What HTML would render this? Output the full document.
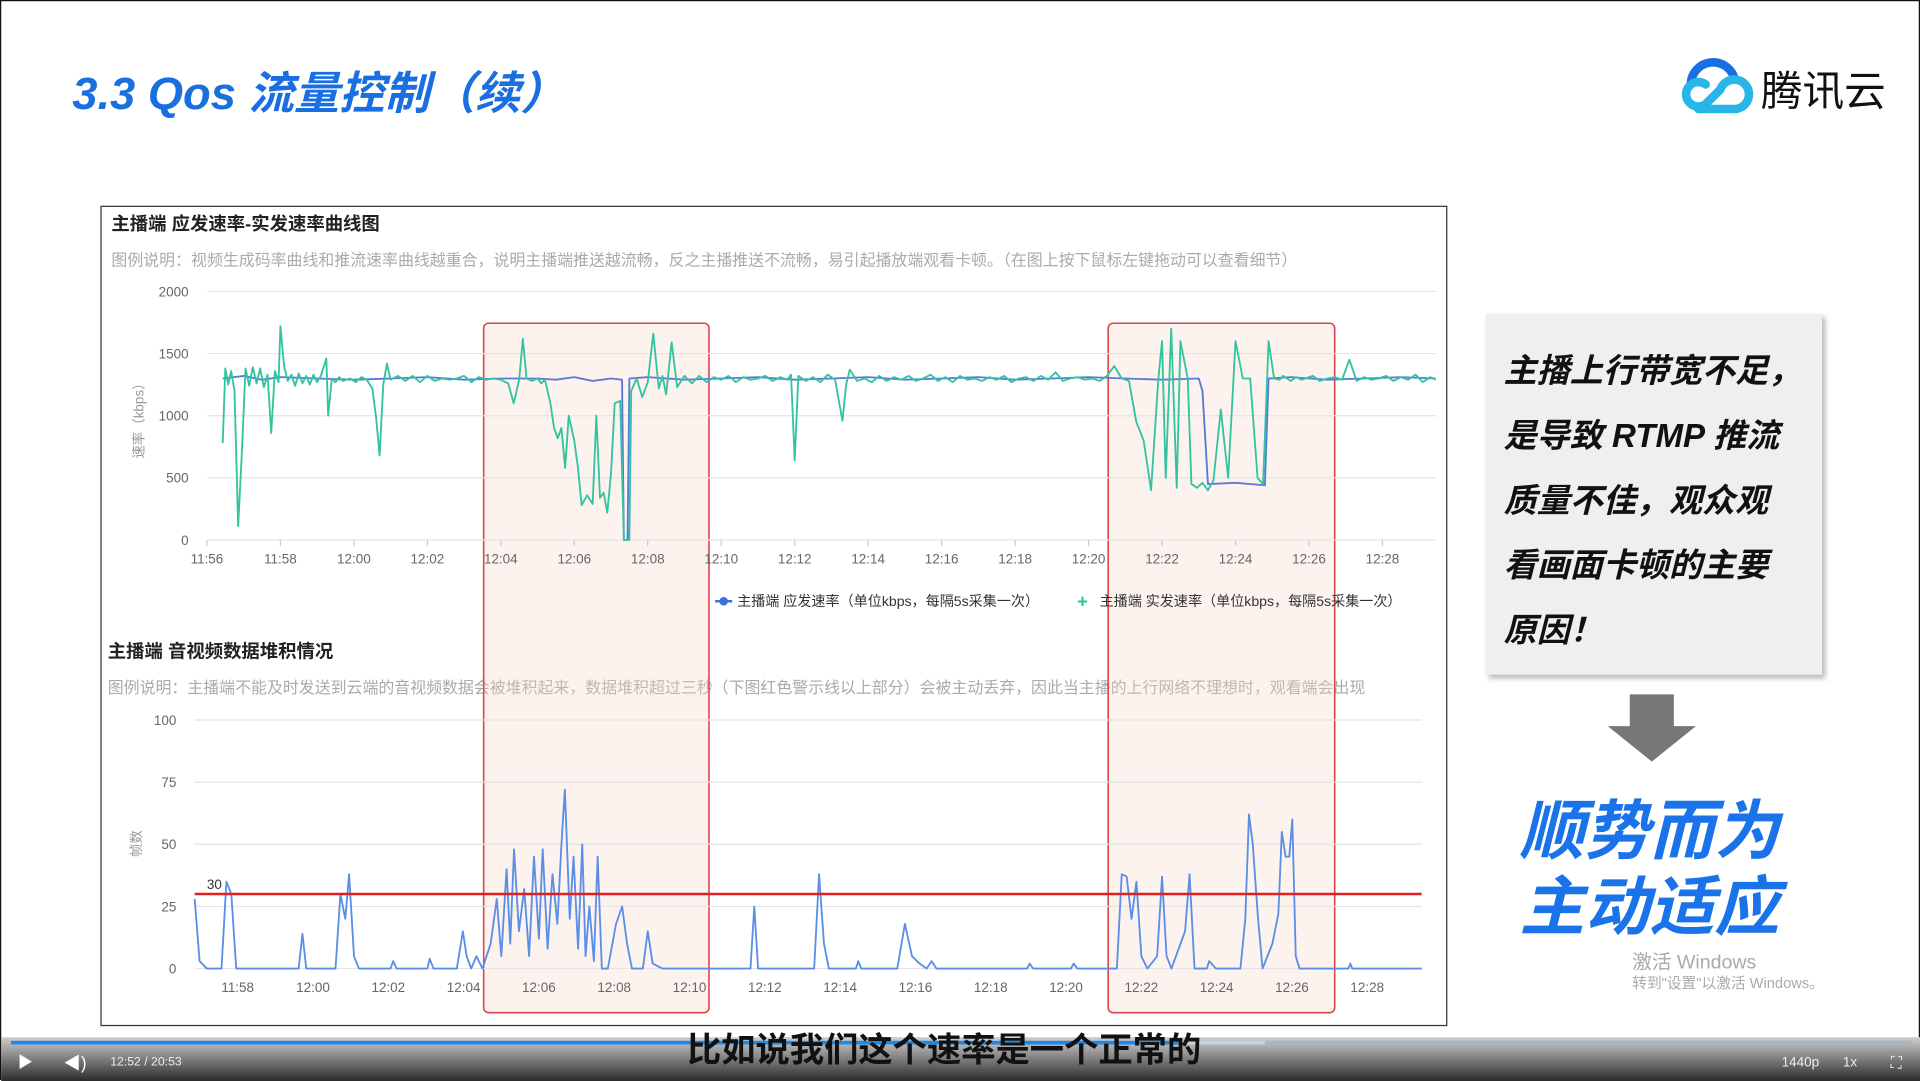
<!DOCTYPE html>
<html><head><meta charset="utf-8"><style>
html,body{margin:0;padding:0;width:1920px;height:1080px;overflow:hidden;background:#fff}
#stage{position:absolute;left:0;top:0;width:1568px;height:882px;transform:scale(1.22449);transform-origin:0 0;font-family:"Liberation Sans","Noto Sans CJK SC",sans-serif;border-top:1px solid #111;border-left:1px solid #111;border-right:1px solid #111;box-sizing:border-box}
.abs{position:absolute;white-space:nowrap}
</style></head><body>
<div id="stage">
<div class="abs" style="left:58px;top:45px;font-size:37px;font-weight:bold;font-style:italic;color:#1a6fe0">3.3 Qos 流量控制（续）</div>
<svg class="abs" style="left:1366px;top:44px" width="68" height="50" viewBox="0 0 68 50">
<path d="M14 26 A18 18 0 0 1 50 22" fill="none" stroke="#1a6fe0" stroke-width="7"/>
<path d="M20 44 H50 A12 12 0 1 0 38 28 L26 40 A10 10 0 1 1 26 24" fill="none" stroke="#27b6e8" stroke-width="7" stroke-linecap="round"/>
</svg>
<div class="abs" style="left:1437px;top:46px;font-size:34px;color:#111">腾讯云</div>

<div class="abs" style="left:81px;top:167px;width:1098px;height:668px;border:1px solid #333;background:#fff"></div>
<div class="abs" style="left:90px;top:171px;font-size:15px;font-weight:bold;color:#222">主播端 应发速率-实发速率曲线图</div>
<div class="abs" style="left:90px;top:201px;font-size:13px;color:#aaa">图例说明：视频生成码率曲线和推流速率曲线越重合，说明主播端推送越流畅，反之主播推送不流畅，易引起播放端观看卡顿。（在图上按下鼠标左键拖动可以查看细节）</div>
<div class="abs" style="left:87px;top:520px;font-size:15px;font-weight:bold;color:#222">主播端 音视频数据堆积情况</div>
<div class="abs" style="left:87px;top:550px;font-size:13px;color:#aaa">图例说明：主播端不能及时发送到云端的音视频数据会被堆积起来，数据堆积超过三秒（下图红色警示线以上部分）会被主动丢弃，因此当主播的上行网络不理想时，观看端会出现</div>

<svg id="charts" class="abs" style="left:0;top:0" width="1568" height="882"></svg>

<div class="abs" style="left:1212px;top:255px;width:275px;height:295px;background:#efefef;box-shadow:3px 3px 4px #bbb"></div>
<div class="abs" style="left:1227px;top:276px;font-size:27px;line-height:53px;font-weight:bold;font-style:italic;color:#111">主播上行带宽不足，<br>是导致 RTMP 推流<br>质量不佳，观众观<br>看画面卡顿的主要<br>原因！</div>
<svg class="abs" style="left:1312px;top:566px" width="74" height="56"><path d="M18 0 H54 V26 H72 L36 55 L0 26 H18 Z" fill="#777"/></svg>
<div class="abs" style="left:1236px;top:648px;width:220px;text-align:center;font-size:53px;line-height:62px;font-weight:bold;font-style:italic;color:#1a73e8">顺势而为<br>主动适应</div>
<div class="abs" style="left:1332px;top:771px;font-size:16px;color:#aaa">激活 Windows</div>
<div class="abs" style="left:1332px;top:793px;font-size:12px;color:#aaa">转到"设置"以激活 Windows。</div>

<div class="abs" style="left:0;top:846px;width:1568px;height:36px;background:linear-gradient(#cfcfcf,#2a2a2a)"></div>
<div class="abs" style="left:8px;top:849px;width:1552px;height:3px;background:#aab4c4"></div>
<div class="abs" style="left:8px;top:849px;width:1024px;height:3px;background:#c8d2e0"></div>
<div class="abs" style="left:8px;top:849px;width:956px;height:3px;background:#1e88e5"></div>
<div class="abs" style="left:560px;top:835px;font-size:28px;font-weight:bold;color:#111">比如说我们这个速率是一个正常的</div>
<div class="abs" style="left:15px;top:860px;width:0;height:0;border-left:10px solid #fff;border-top:6px solid transparent;border-bottom:6px solid transparent"></div>
<div class="abs" style="left:51px;top:857px;font-size:14px;color:#fff">◀)</div>
<div class="abs" style="left:89px;top:861px;font-size:10px;color:#eee">12:52 / 20:53</div>
<div class="abs" style="left:1454px;top:861px;font-size:11px;color:#eee">1440p</div>
<div class="abs" style="left:1504px;top:861px;font-size:11px;color:#eee">1x</div>
<div class="abs" style="left:1543px;top:859px;font-size:13px;color:#eee">⛶</div>
</div>
<script>
// top chart data (t = minutes after 11:56, v = kbps)
var topTicks=["11:56","11:58","12:00","12:02","12:04","12:06","12:08","12:10","12:12","12:14","12:16","12:18","12:20","12:22","12:24","12:26","12:28"];
var topYTicks=[0,500,1000,1500,2000];
var greenT=[0.43,0.5,0.58,0.66,0.75,0.85,0.95,1.05,1.15,1.25,1.35,1.45,1.55,1.65,1.75,1.85,1.95,2.0,2.1,2.2,2.3,2.4,2.5,2.6,2.7,2.8,2.9,3.0,3.1,3.25,3.3,3.4,3.5,3.6,3.7,3.9,4.05,4.2,4.35,4.5,4.6,4.7,4.8,4.9,5.0,5.2,5.4,5.6,5.8,6.0,6.2,6.4,6.6,6.8,7.0,7.2,7.4,7.6,7.8,8.0,8.2,8.35,8.5,8.6,8.7,8.85,9.0,9.1,9.2,9.35,9.45,9.55,9.65,9.75,9.85,10.0,10.1,10.2,10.35,10.5,10.6,10.7,10.8,10.9,11.0,11.1,11.25,11.35,11.5,11.55,11.7,11.85,12.0,12.15,12.3,12.4,12.5,12.65,12.8,13.0,13.2,13.4,13.6,13.8,14.0,14.2,14.4,14.6,14.8,15.0,15.2,15.4,15.6,15.8,15.9,16.0,16.1,16.3,16.5,16.7,16.9,17.1,17.3,17.4,17.5,17.7,17.9,18.1,18.3,18.5,18.7,18.9,19.1,19.3,19.5,19.7,19.9,20.1,20.3,20.5,20.7,20.9,21.1,21.3,21.5,21.7,21.9,22.1,22.3,22.5,22.7,22.9,23.1,23.3,23.5,23.7,23.9,24.1,24.3,24.5,24.7,24.9,25.1,25.3,25.5,25.7,25.9,26.0,26.1,26.25,26.4,26.5,26.7,26.8,26.95,27.1,27.25,27.4,27.6,27.8,28.0,28.2,28.4,28.6,28.75,28.9,29.05,29.2,29.3,29.5,29.65,29.8,29.9,30.1,30.3,30.5,30.7,30.9,31.1,31.3,31.5,31.7,31.9,32.1,32.3,32.5,32.7,32.9,33.1,33.3,33.45];
var greenV=[780,1380,1250,1360,1200,110,700,1380,1240,1390,1260,1380,1230,1330,860,1360,1270,1720,1400,1280,1330,1240,1340,1260,1320,1250,1330,1270,1320,1460,1000,1300,1270,1310,1280,1300,1270,1310,1290,1220,1000,680,1250,1420,1290,1320,1280,1320,1270,1320,1280,1300,1290,1300,1320,1270,1310,1290,1300,1290,1260,1100,1290,1620,1300,1280,1300,1260,1290,1100,900,820,900,580,1000,800,580,280,360,290,1000,340,380,220,540,1100,1120,0,0,1200,1300,1150,1270,1660,1220,1320,1170,1590,1230,1320,1260,1320,1270,1310,1290,1320,1270,1310,1290,1300,1320,1280,1310,1290,1330,640,1320,1280,1310,1270,1330,1290,960,1250,1370,1280,1300,1270,1320,1280,1310,1290,1320,1280,1300,1330,1280,1310,1270,1320,1290,1300,1280,1310,1290,1320,1270,1300,1310,1280,1320,1290,1350,1280,1300,1310,1290,1300,1280,1320,1400,1300,1280,950,800,400,1300,1600,500,1700,420,1600,1300,450,420,460,400,480,1050,500,1600,1300,1300,500,450,1600,1300,1290,1320,1280,1310,1290,1300,1320,1280,1300,1310,1290,1450,1280,1310,1290,1300,1320,1280,1310,1290,1330,1270,1310,1290,1300];
var blueT=[0.43,1.0,1.5,2.0,3.0,4.0,5.0,6.0,7.0,8.0,9.0,9.5,10.0,10.5,11.0,11.3,11.35,11.45,11.5,12.0,13.0,14.0,15.0,16.0,17.0,18.0,19.0,20.0,21.0,22.0,23.0,24.0,25.0,26.0,27.0,27.1,27.25,28.0,28.8,28.9,29.5,30.5,31.5,32.5,33.45];
var blueV=[1300,1320,1290,1310,1300,1290,1300,1310,1290,1300,1300,1290,1310,1280,1300,1290,0,0,1300,1310,1290,1300,1310,1290,1300,1310,1290,1300,1310,1290,1300,1310,1300,1290,1300,1200,450,460,440,1300,1310,1290,1300,1310,1300];
// bottom chart data (t = minutes after 11:56, v = frames)
var botTicks=["11:58","12:00","12:02","12:04","12:06","12:08","12:10","12:12","12:14","12:16","12:18","12:20","12:22","12:24","12:26","12:28"];
var botYTicks=[0,25,50,75,100];
var thresholdValue=30;
var stackT=[0.86,0.99,1.18,1.57,1.70,1.83,1.96,3.62,3.72,3.82,4.6,4.73,4.86,4.96,5.09,5.22,6.06,6.13,6.22,7.04,7.1,7.2,7.82,7.98,8.08,8.2,8.34,8.5,8.72,8.88,9.0,9.14,9.24,9.34,9.47,9.61,9.74,9.87,10.0,10.1,10.23,10.36,10.49,10.6,10.69,10.82,10.92,11.04,11.15,11.24,11.34,11.46,11.56,11.67,11.83,12.05,12.21,12.34,12.47,12.76,12.89,13.02,13.28,15.62,15.72,15.82,17.31,17.44,17.57,17.7,18.42,18.48,18.56,19.52,19.72,19.91,20.11,20.3,20.43,20.56,22.97,23.03,23.13,24.13,24.2,24.3,25.35,25.48,25.61,25.74,25.87,26.0,26.16,26.42,26.55,26.67,26.8,27.16,27.28,27.41,27.74,27.8,27.98,28.63,28.76,28.86,28.96,29.1,29.22,29.48,29.64,29.73,29.83,29.93,30.01,30.1,30.2,31.5,31.55,31.6,33.45];
var stackV=[28,3,0,0,35,30,0,0,14,0,0,30,20,38,5,0,0,3,0,0,4,0,0,15,5,0,5,0,10,28,5,40,10,48,15,32,5,45,12,48,8,38,18,50,72,20,45,8,50,5,25,3,45,0,0,18,25,10,0,0,15,2,0,0,25,0,0,38,10,0,0,3,0,0,18,5,2,0,3,0,0,2,0,0,2,0,0,38,37,20,35,5,0,5,37,5,0,15,38,0,0,3,0,0,20,62,50,20,0,10,22,55,45,45,60,5,0,0,2,0,0];

var NS="http://www.w3.org/2000/svg";
var svg=document.getElementById('charts');
function mk(tag,attrs,parent){var e=document.createElementNS(NS,tag);for(var k in attrs)e.setAttribute(k,attrs[k]);(parent||svg).appendChild(e);return e;}
function tx(t){return 168+30*t;} function ty(v){return 440-v*203/2000;}
function bx(t){return 131.6+30.75*t;} function by(v){return 790-v*2.03;}

[[394,578],[904,1089]].forEach(function(b,i){
  var r=mk('rect',{x:b[0],y:263,width:b[1]-b[0],height:563,rx:4,fill:'rgba(250,215,200,0.3)',stroke:'#d9454a','stroke-width':1.3});
  
  
});
topYTicks.forEach(function(v){
  var l=mk('line',{x1:168,x2:1172,y1:ty(v),y2:ty(v),stroke:'#e4e4e4'});
  
  
  var t=mk('text',{x:153,y:ty(v)+4,'text-anchor':'end','font-size':11,fill:'#666'});t.textContent=v;
  
  
});
topTicks.forEach(function(s,i){
  var t=mk('text',{x:tx(i*2),y:459,'text-anchor':'middle','font-size':11,fill:'#666'});t.textContent=s;
  
  
  var k=mk('line',{x1:tx(i*2),x2:tx(i*2),y1:440,y2:445,stroke:'#ccc'});
  
  
});
var yt=mk('text',{x:0,y:0,'font-size':11,fill:'#999','text-anchor':'middle',transform:'translate(116,340) rotate(-90)'});yt.textContent='速率（kbps）';


function poly(T,V,fx,fy,color,name){
  var n=Math.min(T.length,V.length),pts=[];
  for(var i=0;i<n;i++)pts.push(fx(T[i]).toFixed(1)+','+fy(V[i]).toFixed(1));
  var e=mk('polyline',{points:pts.join(' '),fill:'none',stroke:color,'stroke-width':1.5,'stroke-linejoin':'round'});
  
  
}
poly(blueT,blueV,tx,ty,'#5a78d8','expected-rate-line');
poly(greenT,greenV,tx,ty,'#32c3a0','actual-rate-line');
var lg1=mk('line',{x1:583,x2:597,y1:490,y2:490,stroke:'#3f6fd8','stroke-width':2});


var lc=mk('circle',{cx:590,cy:490,r:3.5,fill:'#3f6fd8'});


var lt1=mk('text',{x:601,y:494,'font-size':11.5,fill:'#333'});lt1.textContent='主播端 应发速率（单位kbps，每隔5s采集一次）';


var lg2=mk('text',{x:883,y:495,'font-size':15,'font-weight':'bold',fill:'#2cc39d','text-anchor':'middle'});lg2.textContent='+';


var lt2=mk('text',{x:897,y:494,'font-size':11.5,fill:'#333'});lt2.textContent='主播端 实发速率（单位kbps，每隔5s采集一次）';


botYTicks.forEach(function(v){
  var l=mk('line',{x1:158,x2:1160,y1:by(v),y2:by(v),stroke:'#e4e4e4'});
  
  
  var t=mk('text',{x:143,y:by(v)+4,'text-anchor':'end','font-size':11,fill:'#666'});t.textContent=v;
  
  
});
botTicks.forEach(function(s,i){
  var t=mk('text',{x:bx(2+i*2),y:809,'text-anchor':'middle','font-size':11,fill:'#666'});t.textContent=s;
  
  
});
var yt2=mk('text',{x:0,y:0,'font-size':11,fill:'#999','text-anchor':'middle',transform:'translate(114,688) rotate(-90)'});yt2.textContent='帧数';


poly(stackT,stackV,bx,by,'#5b8ee6','stacked-frames-line');
var th=mk('line',{x1:158,x2:1160,y1:by(thresholdValue),y2:by(thresholdValue),stroke:'#e02020','stroke-width':2});


var thl=mk('text',{x:168,y:by(thresholdValue)-4,'font-size':11,fill:'#333'});thl.textContent=thresholdValue;


</script>
</body></html>
